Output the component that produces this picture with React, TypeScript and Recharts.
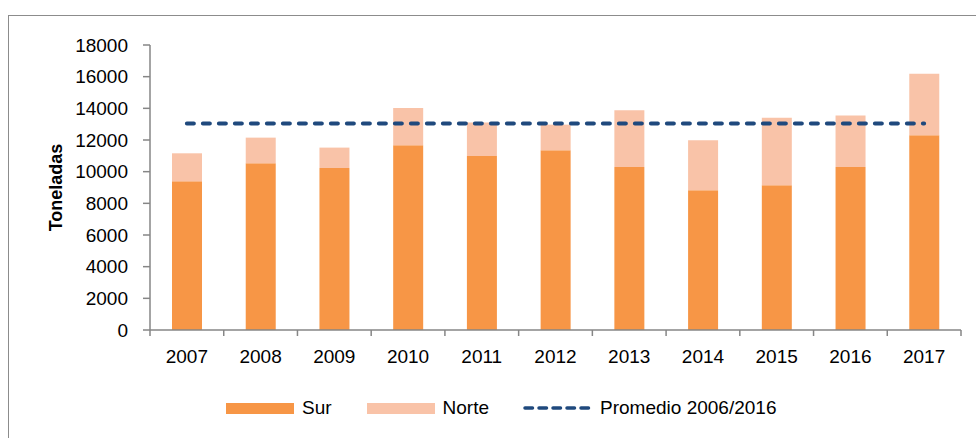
import React from 'react';
import { ComposedChart, Bar, Line, XAxis, YAxis, Legend } from 'recharts';

const years = ['2007', '2008', '2009', '2010', '2011', '2012', '2013', '2014', '2015', '2016', '2017'];
const sur = [9390, 10530, 10230, 11670, 10990, 11350, 10300, 8820, 9140, 10300, 12300];
const norte = [1770, 1620, 1290, 2350, 2110, 1620, 3580, 3160, 4270, 3240, 3890];
const promedio = [13050, 13050, 13050, 13050, 13050, 13050, 13050, 13050, 13050, 13050, 13050];
const yTicks = [0, 2000, 4000, 6000, 8000, 10000, 12000, 14000, 16000, 18000];

const data = years.map((year, i) => ({
  year,
  sur: sur[i],
  norte: norte[i],
  promedio: promedio[i],
}));

const FONT = "'Liberation Sans', Arial, sans-serif";
const AXIS = '#868686';
const SUR = '#F79646';
const NORTE = '#F9C3A8';
const LINE = '#1F497D';

const XTick = (props: any) => {
  const { x, y, payload } = props;
  const half = payload.offset || 36.9;
  const y0 = y - 20;
  const isLast = payload.value === years[years.length - 1];
  return (
    <g>
      <line x1={x - half} x2={x - half} y1={y0} y2={y0 + 6} stroke={AXIS} strokeWidth={1.5} />
      {isLast && <line x1={x + half} x2={x + half} y1={y0} y2={y0 + 6} stroke={AXIS} strokeWidth={1.5} />}
      <text x={x} y={y} dy="0.71em" textAnchor="middle" fill="#000" fontSize={19} fontFamily={FONT}>
        {payload.value}
      </text>
    </g>
  );
};

const YLabel = (props: any) => {
  const vb = props.viewBox || { x: 0, y: 45, width: 150, height: 285 };
  const cx = vb.x + 56;
  const cy = vb.y + vb.height / 2;
  return (
    <text
      x={cx}
      y={cy}
      dy="0.35em"
      transform={`rotate(-90 ${cx} ${cy})`}
      textAnchor="middle"
      fontSize={18}
      fontWeight="bold"
      fontFamily={FONT}
      fill="#000"
    >
      Toneladas
    </text>
  );
};

const legendText: React.CSSProperties = { fontSize: 19, fontFamily: FONT, color: '#000', lineHeight: '22px' };

const LegendContent = () => (
  <div style={{ display: 'flex', alignItems: 'center', paddingLeft: 226, height: 22 }}>
    <div style={{ width: 68, height: 11, background: SUR }} />
    <span style={{ ...legendText, marginLeft: 8 }}>Sur</span>
    <div style={{ width: 68, height: 11, background: NORTE, marginLeft: 35 }} />
    <span style={{ ...legendText, marginLeft: 8 }}>Norte</span>
    <svg width={72} height={12} style={{ marginLeft: 33 }}>
      <line x1={3} x2={70} y1={6} y2={6} stroke={LINE} strokeWidth={3.5} strokeDasharray="7.5 6.5" strokeLinecap="round" />
    </svg>
    <span style={{ ...legendText, marginLeft: 6 }}>Promedio 2006/2016</span>
  </div>
);

export default function App() {
  return (
    <div style={{ position: 'absolute', left: 0, top: 0, width: 976, height: 438, overflow: 'hidden', background: '#fff' }}>
      <div
        style={{
          position: 'absolute',
          left: 8,
          top: 15,
          width: 1100,
          height: 600,
          border: '1.5px solid #8c8c8c',
        }}
      />
      <div style={{ position: 'absolute', left: 0, top: 0 }}>
        <ComposedChart width={976} height={438} data={data} margin={{ top: 45, right: 15, bottom: 68, left: 0 }}>
          <XAxis
            dataKey="year"
            height={40}
            tickLine={false}
            tickSize={6}
            tickMargin={14}
            axisLine={{ stroke: AXIS, strokeWidth: 1.5 }}
            tick={<XTick />}
            interval={0}
          />
          <YAxis
            width={150}
            domain={[0, 18000]}
            ticks={yTicks}
            interval={0}
            tickSize={7}
            tickMargin={15}
            tickLine={{ stroke: AXIS, strokeWidth: 1.5 }}
            axisLine={{ stroke: AXIS, strokeWidth: 1.5 }}
            tick={{ fill: '#000', fontSize: 19, fontFamily: FONT }}
            label={<YLabel />}
          />
          <Legend
            layout="horizontal"
            verticalAlign="middle"
            align="center"
            wrapperStyle={{ top: 397, left: 0, width: 976 }}
            content={<LegendContent />}
          />
          <Bar dataKey="sur" name="Sur" stackId="a" fill={SUR} barSize={30} isAnimationActive={false} />
          <Bar dataKey="norte" name="Norte" stackId="a" fill={NORTE} barSize={30} isAnimationActive={false} />
          <Line
            dataKey="promedio"
            name="Promedio 2006/2016"
            stroke={LINE}
            strokeWidth={4}
            strokeDasharray="7 9"
            strokeLinecap="round"
            dot={false}
            activeDot={false}
            isAnimationActive={false}
          />
        </ComposedChart>
      </div>
    </div>
  );
}
